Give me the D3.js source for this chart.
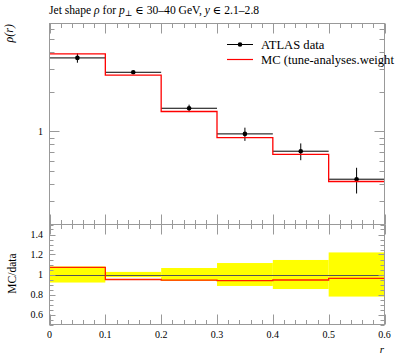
<!DOCTYPE html>
<html><head><meta charset="utf-8">
<script src="https://cdn.jsdelivr.net/npm/d3@7"></script>
<style>
body{margin:0;background:#fff;}
svg{display:block;font-family:"Liberation Serif","DejaVu Serif",serif;}
</style></head>
<body><svg id="c" width="397" height="358"></svg>
<script>
// ---- data ----
const binEdges = [0, 0.1, 0.2, 0.3, 0.4, 0.5, 0.6];
const dataValues = [3.61, 2.81, 1.50, 0.959, 0.709, 0.435];
const dataErrors = [0.29, 0.073, 0.0975, 0.11, 0.103, 0.096];
const mcValues = [3.87, 2.67, 1.417, 0.90, 0.67, 0.418];
const xTickLabels = ["0", "0.1", "0.2", "0.3", "0.4", "0.5", "0.6"];
const ratioTickLabels = ["0.6", "0.8", "1", "1.2", "1.4"];
const mainTickLabels = ["1"];

const svg = d3.select("#c");
const L = 49.5, R = 384.5, T = 23.5, M = 224.5, B = 324.5;
const frameCol = "#999";

const x = d3.scaleLinear().domain([0, 0.6]).range([L, R]);
const y = d3.scaleLog().domain([0.1974, 6.58]).range([M, T]);
const yr = d3.scaleLinear().domain([0.5, 1.5]).range([B, M]);

const bins = d3.range(dataValues.length).map(i => ({
  x0: binEdges[i], x1: binEdges[i+1], xc: (binEdges[i]+binEdges[i+1])/2,
  v: dataValues[i], e: dataErrors[i], mc: mcValues[i],
  rel: dataErrors[i]/dataValues[i], ratio: mcValues[i]/dataValues[i]
}));

// ---- ratio panel: yellow band ----
svg.append("g").selectAll("rect").data(bins).join("rect")
  .attr("x", d => x(d.x0)).attr("width", d => x(d.x1) - x(d.x0))
  .attr("y", d => yr(1 + d.rel)).attr("height", d => yr(1 - d.rel) - yr(1 + d.rel))
  .attr("fill", "#ffff00");

// line at 1
svg.append("line").attr("x1", L).attr("x2", R).attr("y1", Math.round(yr(1))+0.5).attr("y2", Math.round(yr(1))+0.5)
  .attr("stroke", "#555").attr("stroke-width", 1);

// MC ratio step
function stepPath(vals, ys) {
  let p = "";
  bins.forEach((d, i) => {
    const yy = ys(vals[i]);
    p += (i === 0 ? "M" : "L") + x(d.x0) + "," + yy + "L" + x(d.x1) + "," + yy;
  });
  return p;
}
svg.append("path").attr("d", stepPath(bins.map(d => d.ratio), yr))
  .attr("fill", "none").attr("stroke", "#ff2000").attr("stroke-width", 1.3);

// ---- main panel ----
const gData = svg.append("g");
gData.selectAll("line.h").data(bins).join("line").attr("class","h")
  .attr("x1", d => x(d.x0)).attr("x2", d => x(d.x1))
  .attr("y1", d => y(d.v)).attr("y2", d => y(d.v))
  .attr("stroke", "#000").attr("stroke-width", 1);
svg.append("path").attr("d", stepPath(mcValues, y))
  .attr("fill", "none").attr("stroke", "#ff0000").attr("stroke-width", 1.3);
gData.selectAll("line.v").data(bins).join("line").attr("class","v")
  .attr("x1", d => x(d.xc)).attr("x2", d => x(d.xc))
  .attr("y1", d => y(d.v - d.e)).attr("y2", d => y(d.v + d.e))
  .attr("stroke", "#000").attr("stroke-width", 1);
gData.selectAll("circle").data(bins).join("circle")
  .attr("cx", d => x(d.xc)).attr("cy", d => y(d.v)).attr("r", 2.3).attr("fill", "#000");

// ---- frames ----
svg.append("rect").attr("x", L).attr("y", T).attr("width", R-L).attr("height", M-T)
  .attr("fill", "none").attr("stroke", frameCol);
svg.append("rect").attr("x", L).attr("y", M).attr("width", R-L).attr("height", B-M)
  .attr("fill", "none").attr("stroke", frameCol);

// ---- ticks ----
const tk = svg.append("g").attr("stroke", frameCol).attr("stroke-width", 1);
function vtick(xx, y0, len) { tk.append("line").attr("x1", xx).attr("x2", xx).attr("y1", y0).attr("y2", y0 + len); }
function htick(yy, x0, len) { tk.append("line").attr("x1", x0).attr("x2", x0 + len).attr("y1", yy).attr("y2", yy); }

const xMinor = d3.range(0, 0.6001, 0.02);
xMinor.forEach(v => {
  const major = Math.abs(v*10 - Math.round(v*10)) < 1e-6;
  const xx = Math.round(x(v)) + 0.5;
  const len = major ? 10 : 4.5;
  vtick(xx, T, len); vtick(xx, M, -len);
  vtick(xx, M, len); vtick(xx, B, -len);
});
const logTicks = [0.2,0.3,0.4,0.5,0.6,0.7,0.8,0.9,1,2,3,4,5,6];
logTicks.forEach(v => {
  const len = v === 1 ? 10 : 5;
  const yy = Math.round(y(v)) + 0.5;
  htick(yy, L, len); htick(yy, R, -len);
});
d3.range(0.5, 1.5001, 0.05).forEach(v => {
  const major = Math.abs(v*5 - Math.round(v*5)) < 1e-6;
  const len = major ? 6 : 4;
  const yy = Math.round(yr(v)) + 0.5;
  htick(yy, L, len); htick(yy, R, -len);
});

// ---- labels ----
const lab = svg.append("g").attr("fill", "#000");
lab.selectAll("text.xt").data(xTickLabels).join("text").attr("class","xt")
  .attr("x", d => x(+d)).attr("y", 338).attr("text-anchor", "middle")
  .attr("font-size", 10).text(d => d);
lab.selectAll("text.rt").data(ratioTickLabels).join("text").attr("class","rt")
  .attr("x", 43).attr("y", d => yr(+d) + 3.5).attr("text-anchor", "end")
  .attr("font-size", 10).text(d => d);
lab.selectAll("text.mt").data(mainTickLabels).join("text").attr("class","mt")
  .attr("x", 43).attr("y", d => y(+d) + 3.5).attr("text-anchor", "end")
  .attr("font-size", 10).text(d => d);

lab.append("text").attr("transform", "translate(12.5,24) rotate(-90)").attr("text-anchor", "end")
  .attr("font-size", 12).attr("font-style", "italic").text("ρ(r)");
lab.append("text").attr("transform", "translate(15.5,273.5) rotate(-90)").attr("text-anchor", "middle")
  .attr("font-size", 11.5).text("MC/data");
lab.append("text").attr("x", 384).attr("y", 353).attr("text-anchor", "end")
  .attr("font-size", 11).attr("font-style", "italic").text("r");

const title = lab.append("text").attr("x", 49).attr("y", 13.5).attr("font-size", 11.6);
title.append("tspan").text("Jet shape ");
title.append("tspan").attr("font-style", "italic").text("ρ");
title.append("tspan").text(" for ");
title.append("tspan").attr("font-style", "italic").text("p");
title.append("tspan").attr("font-size", 8).attr("dy", 2).text("⊥");
title.append("tspan").attr("dy", -2).text(" ∈ 30–40 GeV, ");
title.append("tspan").attr("font-style", "italic").text("y");
title.append("tspan").text(" ∈ 2.1–2.8");

const lg = svg.append("g");
lg.append("line").attr("x1", 227).attr("x2", 253).attr("y1", 44.5).attr("y2", 44.5).attr("stroke", "#000");
lg.append("circle").attr("cx", 240).attr("cy", 44.5).attr("r", 2.3).attr("fill", "#000");
lg.append("text").attr("x", 261).attr("y", 48.5).attr("font-size", 12.6).text("ATLAS data");
lg.append("line").attr("x1", 227).attr("x2", 253).attr("y1", 59.5).attr("y2", 59.5).attr("stroke", "#ff0000").attr("stroke-width", 1.2);
lg.append("text").attr("x", 261).attr("y", 63.5).attr("font-size", 12.6).text("MC (tune-analyses.weight");
</script></body></html>
